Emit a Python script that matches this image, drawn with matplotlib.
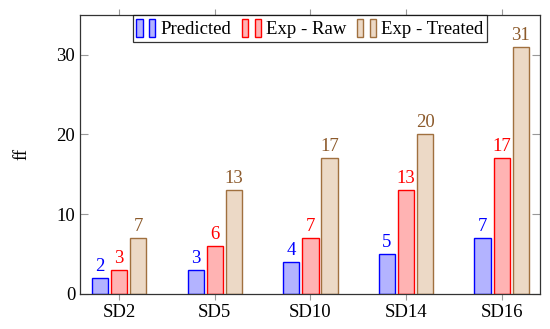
import matplotlib.pyplot as plt
import numpy as np
from matplotlib.legend_handler import HandlerTuple
from matplotlib.patches import Patch

categories = ["SD2", "SD5", "SD10", "SD14", "SD16"]
predicted = [2, 3, 4, 5, 7]
exp_raw = [3, 6, 7, 13, 17]
exp_treated = [7, 13, 17, 20, 31]

series_names = ["Predicted", "Exp - Raw", "Exp - Treated"]
fills = ["#b3b3ff", "#ffb3b3", "#ecd9c6"]
edges = ["#0000ff", "#ff0000", "#a0703f"]
text_colors = ["#0000ff", "#ff0000", "#8c5a2b"]

plt.rcParams["font.family"] = ["Liberation Serif", "DejaVu Serif"]

fig = plt.figure(figsize=(5.5, 3.29), dpi=100)
ax = fig.add_axes([0.1455, 0.1064, 0.8363, 0.8486])

x = np.arange(len(categories))
width = 0.17
offsets = [-0.2, 0.0, 0.2]

handles = []
for values, off, fc, ec, tc in zip(
    [predicted, exp_raw, exp_treated], offsets, fills, edges, text_colors
):
    bars = ax.bar(x + off, values, width, color=fc, edgecolor=ec, linewidth=1.0)
    for b, v in zip(bars, values):
        ax.text(
            b.get_x() + b.get_width() / 2,
            v + 0.4,
            str(v),
            ha="center",
            va="bottom",
            color=tc,
            fontsize=13.5,
        )
    handles.append(
        (
            Patch(facecolor=fc, edgecolor=ec, linewidth=1.0),
            Patch(facecolor=fc, edgecolor=ec, linewidth=1.0),
        )
    )

ax.set_xlim(-0.41, 4.4)
ax.set_ylim(0, 35)
ax.set_xticks(x)
ax.set_xticklabels(categories)
ax.set_yticks([0, 10, 20, 30])
ax.set_ylabel("ff", fontsize=13.5, labelpad=19)

ax.tick_params(axis="x", direction="out", length=4, color="#999999",
               top=True, labelsize=13.5)
ax.tick_params(axis="y", direction="in", length=6, color="#999999",
               right=True, labelsize=13.5)

for s in ax.spines.values():
    s.set_linewidth(0.9)
    s.set_color("#333333")

leg = ax.legend(
    handles,
    series_names,
    handler_map={tuple: HandlerTuple(ndivide=None, pad=0.35)},
    loc="upper center",
    bbox_to_anchor=(0.5, 1.0),
    borderaxespad=0.0,
    ncol=3,
    fontsize=13.5,
    frameon=True,
    fancybox=False,
    edgecolor="black",
    handlelength=1.0,
    handleheight=1.1,
    handletextpad=0.3,
    columnspacing=0.55,
    borderpad=0.2,
)
leg.get_frame().set_linewidth(0.9)

fig.savefig("out.png", dpi=100)
